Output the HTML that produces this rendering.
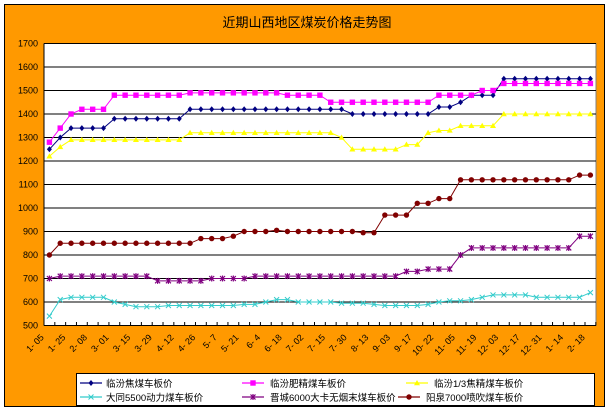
<!DOCTYPE html>
<html><head><meta charset="utf-8"><style>
html,body{margin:0;padding:0;background:#fff;}
svg{display:block;font-family:"Liberation Sans","Noto Sans CJK SC",sans-serif;}
</style></head><body>
<svg id="c" width="609" height="412" xmlns="http://www.w3.org/2000/svg">
<rect x="4.5" y="4.5" width="600" height="402" fill="#FF9900" stroke="#000" stroke-width="1"/>
<text x="307" y="27" font-size="13" text-anchor="middle" fill="#000">近期山西地区煤炭价格走势图</text>
<rect x="44" y="43.5" width="552" height="282" fill="#fff" stroke="#808080" stroke-width="1"/>
<g id="g"></g>
<rect x="76.5" y="373.5" width="518" height="32" fill="#fff" stroke="#000"/>
<g id="lg"></g>
<g font-size="9.5" fill="#000">
<text x="106" y="387">临汾焦煤车板价</text>
<text x="270" y="387">临汾肥精煤车板价</text>
<text x="434" y="387">临汾1/3焦精煤车板价</text>
<text x="106" y="401">大同5500动力煤车板价</text>
<text x="270" y="401">晋城6000大卡无烟末煤车板价</text>
<text x="426" y="401">阳泉7000喷吹煤车板价</text>
</g>
</svg>
<script>
const g=document.getElementById('g');let s='';
const Y=v=>325.5-(v-500)*0.235, X=i=>49.4+i*10.82;
for(let v=600;v<=1700;v+=100){s+=`<line x1="44" x2="596" y1="${Y(v)}" y2="${Y(v)}" stroke="#000" stroke-width="1"/>`;}
for(let v=500;v<=1700;v+=100){s+=`<text x="38" y="${Y(v)+3}" font-size="9" text-anchor="end">${v}</text>`;}
for(let i=0;i<=51;i++){const x=44+i*10.82;s+=`<line x1="${x}" x2="${x}" y1="325.5" y2="322" stroke="#000"/>`;}
s+=`<line x1="44" x2="596" y1="325.5" y2="325.5" stroke="#000"/><line x1="44" x2="44" y1="43.5" y2="325.5" stroke="#000"/>`;
const labs=["1- 05","1- 25","2- 08","3- 01","3- 15","3- 29","4- 12","4- 26","5- 7","5- 21","6- 4","6- 18","7- 02","7- 15","7- 30","8- 13","9- 03","9- 17","10- 22","11- 05","11- 19","12- 03","12- 17","12- 31","1- 14","2- 18"];
labs.forEach((l,k)=>{const x=X(k*2)-5,y=338;s+=`<text x="${x}" y="${y}" font-size="9" text-anchor="end" transform="rotate(-45 ${x} ${y})">${l}</text>`;});
function seg(a){const r=[];a.forEach(([n,v])=>{for(let k=0;k<n;k++)r.push(v)});return r;}
const S=[
 {c:'#000080',m:'d',d:seg([[1,1250],[1,1300],[4,1340],[7,1380],[15,1420],[8,1400],[2,1430],[1,1450],[3,1480],[9,1550]])},
 {c:'#FF00FF',m:'s',d:seg([[1,1280],[1,1340],[1,1400],[3,1420],[7,1480],[9,1490],[4,1480],[10,1450],[4,1480],[2,1500],[9,1530]])},
 {c:'#FFFF00',m:'t',d:seg([[1,1220],[1,1260],[11,1290],[14,1320],[1,1300],[5,1250],[2,1270],[1,1320],[2,1330],[4,1350],[9,1400]])},
 {c:'#33CCCC',m:'x',d:seg([[1,540],[1,610],[4,620],[1,600],[1,590],[3,580],[7,585],[2,590],[1,600],[2,610],[1,600],[3,600],[3,595],[1,590],[4,585],[1,590],[1,600],[2,605],[1,610],[1,620],[4,630],[5,620],[1,640]])},
 {c:'#800080',m:'st',d:seg([[1,700],[9,710],[5,690],[4,700],[14,710],[2,730],[3,740],[1,800],[10,830],[2,880]])},
 {c:'#800000',m:'c',d:seg([[1,800],[13,850],[3,870],[1,880],[3,900],[1,905],[7,900],[2,895],[3,970],[2,1020],[2,1040],[11,1120],[2,1140]])}
];
function mk(m,x,y,c){
 if(m=='d')return `<polygon points="${x},${y-3} ${x+2.5},${y} ${x},${y+3} ${x-2.5},${y}" fill="${c}"/>`;
 if(m=='s')return `<rect x="${x-2.7}" y="${y-2.7}" width="5.4" height="5.4" fill="${c}"/>`;
 if(m=='t')return `<polygon points="${x},${y-3} ${x+3},${y+2.2} ${x-3},${y+2.2}" fill="${c}"/>`;
 if(m=='c')return `<circle cx="${x}" cy="${y}" r="2.7" fill="${c}"/>`;
 if(m=='x')return `<path d="M${x-2.5} ${y-2.5}L${x+2.5} ${y+2.5}M${x+2.5} ${y-2.5}L${x-2.5} ${y+2.5}" stroke="${c}" stroke-width="1"/>`;
 return `<path d="M${x-2.5} ${y-2.5}L${x+2.5} ${y+2.5}M${x+2.5} ${y-2.5}L${x-2.5} ${y+2.5}M${x} ${y-3}L${x} ${y+3}" stroke="${c}" stroke-width="1.2"/>`;
}
S.forEach(o=>{const p=o.d.map((v,i)=>X(i).toFixed(1)+','+Y(v).toFixed(1)).join(' ');
 s+=`<polyline points="${p}" fill="none" stroke="${o.c}" stroke-width="1"/>`;
 o.d.forEach((v,i)=>s+=mk(o.m,X(i),Y(v),o.c));});
g.innerHTML=s;
let t='';
const L=[[80,383,0],[242,383,1],[406,383,2],[80,397,3],[242,397,4],[398,397,5]];
L.forEach(([x,y,k])=>{const o=S[k];t+=`<line x1="${x}" x2="${x+22}" y1="${y}" y2="${y}" stroke="${o.c}" stroke-width="1.3"/>`+mk(o.m,x+11,y,o.c);});
document.getElementById('lg').innerHTML=t;
</script>
</body></html>
